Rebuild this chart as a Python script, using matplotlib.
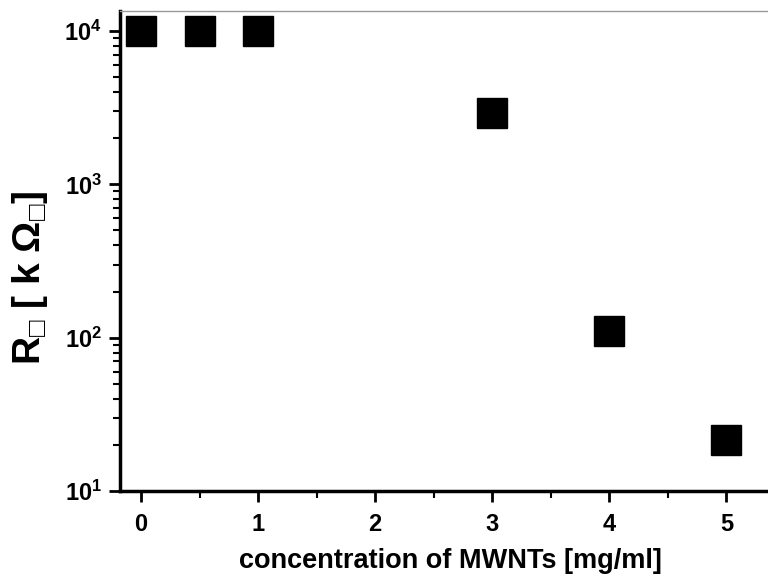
import matplotlib
matplotlib.use("Agg")
import matplotlib.pyplot as plt
from matplotlib.ticker import MultipleLocator, LogLocator

conc = [0, 0.5, 1, 3, 4, 5]
resistance = [1.0e4, 1.0e4, 1.0e4, 2900, 110, 21.5]

plt.rcParams['font.family'] = ['Liberation Sans', 'DejaVu Sans']
plt.rcParams['font.weight'] = 'bold'
plt.rcParams['mathtext.fontset'] = 'custom'
plt.rcParams['mathtext.rm'] = 'Liberation Sans:bold'
plt.rcParams['mathtext.it'] = 'Liberation Sans:bold'
plt.rcParams['mathtext.bf'] = 'Liberation Sans:bold'
plt.rcParams['mathtext.default'] = 'regular'
plt.rcParams['mathtext.fallback'] = 'stixsans'

fig = plt.figure(figsize=(7.68, 5.77), dpi=100)
ax = fig.add_axes([120/768, 86/577, 665/768, 480/577])

ax.plot(conc, resistance, linestyle='none', marker='s', color='black', markersize=21)

ax.set_yscale('log')
ax.set_xlim(-0.18, 5.5)
ax.set_ylim(10, 1.35e4)
ax.xaxis.set_major_locator(MultipleLocator(1))
ax.xaxis.set_minor_locator(MultipleLocator(0.5))
ax.yaxis.set_major_locator(LogLocator(base=10))
ax.yaxis.set_minor_locator(LogLocator(base=10, subs=range(2, 10)))

ax.tick_params(axis='both', which='major', direction='out', length=8, width=2, labelsize=17)
ax.tick_params(axis='both', which='minor', direction='out', length=5, width=1.5)
ax.tick_params(axis='x', pad=8)
ax.tick_params(axis='y', pad=5)

for s in ['left', 'bottom']:
    ax.spines[s].set_linewidth(2.5)
ax.spines['top'].set_linewidth(1)
ax.spines['top'].set_color('#999999')
ax.spines['right'].set_visible(False)

ax.set_xlabel('concentration of MWNTs [mg/ml]', fontsize=19.5, fontweight='bold')
ax.xaxis.set_label_coords((450 - 120) / 665, -(568 - 491) / 480, transform=None)
ax.xaxis.label.set_va('baseline')
ax.xaxis.set_label_coords((450 - 120) / 665, -(568 - 491) / 480)
ax.set_ylabel('R$_{\u25a1}$ [ k \u03a9$_{\u25a1}$]', fontsize=28, fontweight='bold')
ax.yaxis.set_label_coords(-0.106, 0.444)

fig.savefig('out.png', dpi=100)
